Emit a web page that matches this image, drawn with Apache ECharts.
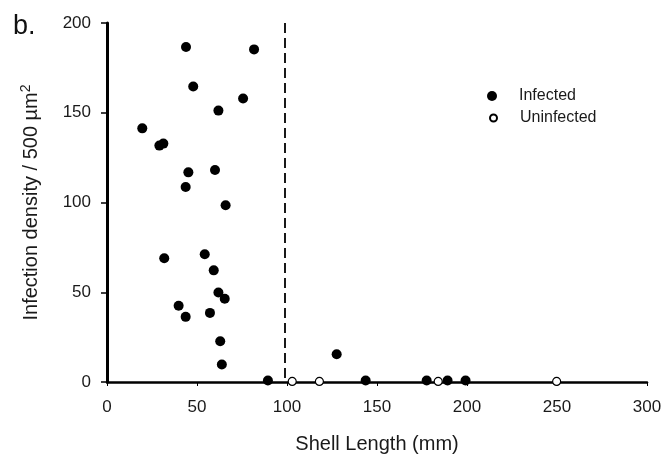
<!DOCTYPE html>
<html><head><meta charset="utf-8">
<script src="https://cdn.jsdelivr.net/npm/echarts@6/dist/echarts.min.js"></script>
<style>html,body{margin:0;padding:0;background:#fff}#c{width:663px;height:454px}</style>
</head><body><div id="c"></div>
<script>
const infectedX = [43.9, 81.7, 47.9, 75.6, 61.9, 19.6, 29.1, 31.3, 45.2, 60.0, 43.7, 65.9,
  31.8, 54.3, 59.3, 61.9, 65.4, 39.8, 43.7, 57.2, 62.9, 63.8, 89.4, 127.6,
  143.7, 177.6, 189.2, 199.2];
const infectedY = [186.6, 185.3, 164.6, 157.9, 151.2, 141.3, 131.7, 132.8, 116.8, 118.1, 108.6, 98.5,
  68.9, 71.2, 62.2, 49.9, 46.4, 42.5, 36.3, 38.5, 22.7, 9.7, 0.8, 15.5,
  0.8, 0.8, 0.8, 0.8];
const uninfectedX = [102.9, 118.0, 184.0, 249.8];
const uninfectedY = [0.3, 0.3, 0.3, 0.3];
const xTicks = [0, 50, 100, 150, 200, 250, 300];
const yTicks = [0, 50, 100, 150, 200];
const cutoffX = 99;

const chart = echarts.init(document.getElementById('c'));
const font = 'Liberation Sans, Arial, sans-serif';
chart.setOption({
  animation: false,
  backgroundColor: '#fff',
  textStyle: {fontFamily: font},
  graphic: [{type: 'text', left: 13, top: 13, style: {text: 'b.', font: '27px Liberation Sans, Arial', fill: '#111'}}],
  legend: [
    {
      left: 487, top: 88, padding: 0, itemWidth: 10, itemHeight: 10, selectedMode: false,
      textStyle: {fontSize: 16, color: '#1a1a1a', fontFamily: font, padding: [0, 0, 0, 17]},
      data: [{name: 'Infected', icon: 'circle'}]
    },
    {
      left: 489, top: 110, padding: 0, itemWidth: 7, itemHeight: 7, selectedMode: false,
      textStyle: {fontSize: 16, color: '#1a1a1a', fontFamily: font, padding: [0, 0, 0, 18]},
      data: [{name: 'Uninfected', icon: 'circle'}]
    }
  ],
  grid: {left: 107, right: 16, top: 23, bottom: 72, containLabel: false, outerBoundsMode: 'none'},
  xAxis: {
    type: 'value', min: xTicks[0], max: xTicks[xTicks.length - 1], interval: 50,
    name: 'Shell Length (mm)', nameLocation: 'middle', nameGap: 52,
    nameTextStyle: {fontSize: 20, color: '#1a1a1a', fontFamily: font},
    axisLine: {lineStyle: {color: '#000', width: 2.5}},
    axisTick: {show: true, length: 4, lineStyle: {color: '#000', width: 1}},
    axisLabel: {fontSize: 17, color: '#1a1a1a', margin: 17, fontFamily: font},
    splitLine: {show: false}
  },
  yAxis: {
    type: 'value', min: yTicks[0], max: yTicks[yTicks.length - 1], interval: 50,
    name: '{a|Infection density / 500 µm}{s|2}', nameLocation: 'middle', nameGap: 64,
    nameTextStyle: {fontSize: 20, color: '#1a1a1a', fontFamily: font,
      rich: {a: {fontSize: 20, color: '#1a1a1a', fontFamily: font}, s: {fontSize: 14, color: '#1a1a1a', fontFamily: font, verticalAlign: 'top', padding: [0, 0, 10, 0]}}},
    axisLine: {show: true, lineStyle: {color: '#000', width: 3}},
    axisTick: {show: true, length: 6, lineStyle: {color: '#000', width: 1.5}},
    axisLabel: {fontSize: 17, color: '#1a1a1a', margin: 16, fontFamily: font},
    splitLine: {show: false}
  },
  series: [
    {
      name: 'Infected', type: 'scatter', symbol: 'circle', symbolSize: 10, clip: false,
      itemStyle: {color: '#000', opacity: 1},
      data: infectedX.map((x, i) => [x, infectedY[i]]),
      z: 3,
      markLine: {
        silent: true, symbol: 'none', label: {show: false},
        lineStyle: {color: '#000', type: [10, 5], width: 1.8},
        data: [[{coord: [cutoffX, yTicks[yTicks.length - 1]]}, {coord: [cutoffX, 0]}]]
      }
    },
    {
      name: 'Uninfected', type: 'scatter', symbol: 'circle', symbolSize: 8, clip: false,
      itemStyle: {color: '#fff', borderColor: '#000', borderWidth: 1.2, opacity: 1},
      data: uninfectedX.map((x, i) => [x, uninfectedY[i]]),
      z: 4
    }
  ]
});
</script></body></html>
